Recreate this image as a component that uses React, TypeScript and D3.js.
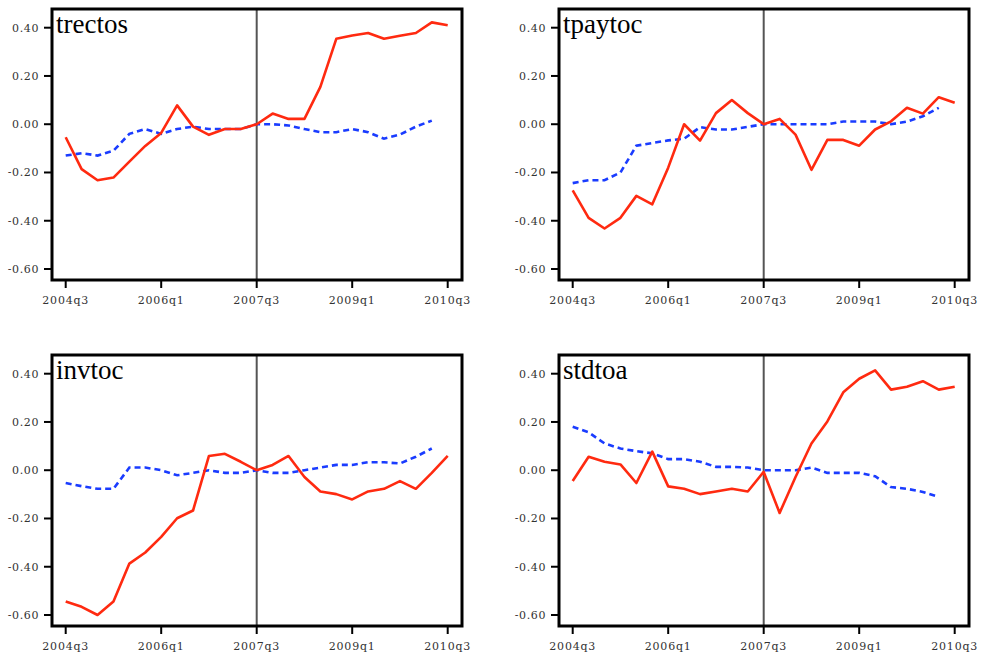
import * as d3 from 'd3';

// quarters 2004q3 .. 2010q3
const quarters = [
  '2004q3', '2004q4', '2005q1', '2005q2', '2005q3', '2005q4', '2006q1', '2006q2', '2006q3',
  '2006q4', '2007q1', '2007q2', '2007q3', '2007q4', '2008q1', '2008q2', '2008q3', '2008q4',
  '2009q1', '2009q2', '2009q3', '2009q4', '2010q1', '2010q2', '2010q3',
];
const xTickLabels = ['2004q3', '2006q1', '2007q3', '2009q1', '2010q3'];
const yTicks = [0.4, 0.2, 0, -0.2, -0.4, -0.6];
const eventQuarter = '2007q3';

const trectosRed = [-0.054, -0.186, -0.232, -0.221, -0.155, -0.09, -0.036, 0.078, -0.01, -0.044, -0.02, -0.02, 0.0,
  0.044, 0.022, 0.022, 0.155, 0.354, 0.368, 0.378, 0.354, 0.367, 0.378, 0.422, 0.41];
const trectosBlue = [-0.13, -0.12, -0.13, -0.11, -0.04, -0.02, -0.04, -0.02, -0.01, -0.02, -0.02, -0.02, 0.0,
  0.0, -0.005, -0.02, -0.033, -0.033, -0.02, -0.033, -0.06, -0.043, -0.01, 0.015];

const tpaytocRed = [-0.274, -0.388, -0.432, -0.388, -0.297, -0.332, -0.18, 0.0, -0.068, 0.046, 0.1, 0.046, 0.0,
  0.022, -0.043, -0.189, -0.065, -0.065, -0.089, -0.022, 0.012, 0.068, 0.044, 0.112, 0.089];
const tpaytocBlue = [-0.244, -0.232, -0.232, -0.2, -0.089, -0.078, -0.067, -0.06, -0.012, -0.022, -0.022, -0.011, 0.0,
  0.0, 0.0, 0.0, 0.0, 0.011, 0.011, 0.011, 0.0, 0.011, 0.033, 0.068];

const invtocRed = [-0.544, -0.566, -0.6, -0.544, -0.387, -0.341, -0.276, -0.199, -0.167, 0.059, 0.068, 0.035, 0.0,
  0.022, 0.059, -0.028, -0.088, -0.099, -0.121, -0.088, -0.077, -0.045, -0.077, -0.011, 0.059];
const invtocBlue = [-0.053, -0.066, -0.077, -0.077, 0.011, 0.011, 0.0, -0.021, -0.011, 0.0, -0.011, -0.011, 0.0,
  -0.011, -0.011, 0.0, 0.011, 0.022, 0.022, 0.033, 0.033, 0.028, 0.056, 0.09];

const stdtoaRed = [-0.045, 0.056, 0.035, 0.024, -0.053, 0.077, -0.067, -0.077, -0.099, -0.088, -0.077, -0.088, -0.007,
  -0.177, -0.028, 0.111, 0.202, 0.323, 0.379, 0.414, 0.334, 0.346, 0.369, 0.334, 0.346];
const stdtoaBlue = [0.18, 0.157, 0.111, 0.09, 0.079, 0.07, 0.046, 0.046, 0.035, 0.014, 0.014, 0.011, 0.0,
  0.0, 0.0, 0.011, -0.011, -0.011, -0.011, -0.025, -0.07, -0.077, -0.09, -0.111];

const panels = [
  { name: 'trectos', red: trectosRed, blue: trectosBlue, left: 52, top: 9 },
  { name: 'tpaytoc', red: tpaytocRed, blue: tpaytocBlue, left: 559, top: 9 },
  { name: 'invtoc', red: invtocRed, blue: invtocBlue, left: 52, top: 355 },
  { name: 'stdtoa', red: stdtoaRed, blue: stdtoaBlue, left: 559, top: 355 },
];

const W = 410, H = 271;
const tickFont = '"DejaVu Serif", serif';

function Panel({ name, red, blue, left, top }) {
  const x = d3.scalePoint().domain(quarters).range([13.7, 395.7]);
  const y = d3.scaleLinear().domain([-0.6, 0.4]).range([260, 18.7]);
  const line = d3.line<number>().x((_, i) => x(quarters[i])!).y(d => y(d));
  const ex = x(eventQuarter)!;

  return (
    <g transform={`translate(${left},${top})`}>
      <line x1={ex} x2={ex} y1={0} y2={H} stroke="#555" strokeWidth={2} />
      <path d={line(blue)!} fill="none" stroke="#1a3cff" strokeWidth={2.6} strokeDasharray="6,4" />
      <path d={line(red)!} fill="none" stroke="#ff2a10" strokeWidth={2.6} strokeLinejoin="round" />
      <rect x={0} y={0} width={W} height={H} fill="none" stroke="#000" strokeWidth={3} />
      {yTicks.map(t => (
        <g key={t}>
          <line x1={-8} x2={0} y1={y(t)} y2={y(t)} stroke="#000" strokeWidth={2} />
          <text x={-13} y={y(t)} dy="0.35em" textAnchor="end" fontFamily={tickFont} fontSize={11}
            letterSpacing={0.6} fill="#333">
            {t.toFixed(2)}
          </text>
        </g>
      ))}
      {xTickLabels.map(q => (
        <g key={q}>
          <line x1={x(q)} x2={x(q)} y1={H} y2={H + 8} stroke="#000" strokeWidth={2} />
          <text x={x(q)} y={H + 24} textAnchor="middle" fontFamily={tickFont} fontSize={11}
            letterSpacing={0.8} fill="#333">
            {q}
          </text>
        </g>
      ))}
      <text x={4} y={24} fontFamily='"Liberation Serif", serif' fontSize={27} fill="#000">{name}</text>
    </g>
  );
}

export default function App() {
  return (
    <svg width={982} height={656} style={{ position: 'absolute', left: 0, top: 0, background: '#fff' }}>
      <rect width={982} height={656} fill="#fff" />
      {panels.map(p => <Panel key={p.name} {...p} />)}
    </svg>
  );
}
